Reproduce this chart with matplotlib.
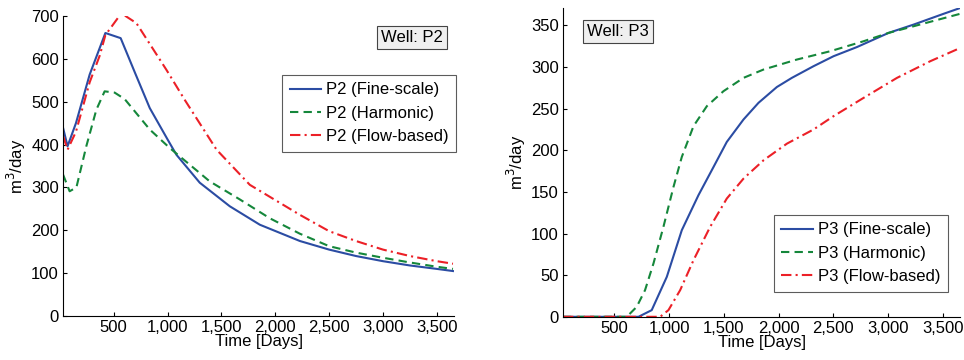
import matplotlib
matplotlib.use("Agg")
import matplotlib.pyplot as plt
from matplotlib.ticker import FuncFormatter

plt.rcParams['font.family'] = ['Liberation Sans', 'DejaVu Sans']

# Well P2
p2_days = [30, 72, 150, 277, 423, 565, 700, 835, 1000, 1083, 1299, 1578,
           1857, 2229, 2500, 2750, 3000, 3250, 3500, 3650]
p2_fine = [439, 396, 450, 563, 660, 648, 566, 485, 412, 376, 311, 256,
           213, 175, 155, 140, 128, 118, 110, 105]
p2_harm_days = [30, 91, 154, 246, 339, 416, 509, 602, 835, 1020, 1206, 1392,
                1671, 1950, 2229, 2500, 2750, 3000, 3250, 3500, 3650]
p2_harm = [330, 291, 300, 396, 481, 524, 521, 506, 435, 392, 353, 314,
           272, 228, 192, 163, 148, 136, 125, 115, 110]
p2_flow_days = [30, 72, 150, 277, 370, 423, 571, 711, 990, 1160, 1455, 1764,
                2229, 2500, 2750, 3000, 3250, 3500, 3650]
p2_flow = [420, 388, 430, 545, 607, 655, 706, 683, 574, 504, 388, 306,
           236, 198, 175, 155, 140, 128, 122]

# Well P3
p3_fine_days = [30, 720, 841, 979, 1116, 1268, 1406, 1527, 1680, 1817, 1985,
                2122, 2320, 2503, 2717, 3006, 3235, 3510, 3662]
p3_fine = [0, 0, 8, 48, 104, 146, 180, 210, 237, 257, 276, 287, 301, 313,
           324, 341, 351, 364, 371]
p3_harm_days = [30, 613, 704, 780, 857, 948, 1040, 1116, 1223, 1345, 1497,
                1680, 1863, 2168, 2473, 2778, 3006, 3235, 3662]
p3_harm = [0, 0, 12, 32, 64, 108, 156, 192, 229, 253, 271, 287, 297, 309,
           319, 331, 341, 349, 364]
p3_flow_days = [30, 918, 994, 1101, 1223, 1375, 1527, 1680, 1863, 2077, 2320,
                2503, 2778, 3083, 3387, 3662]
p3_flow = [0, 0, 8, 32, 68, 108, 142, 166, 188, 208, 225, 241, 263, 287,
           307, 323]

blue = '#2b4ca3'
green = '#15873b'
red = '#ec2027'
fs = 12

fig = plt.figure(figsize=(9.64, 3.6), dpi=100)
ax1 = fig.add_axes([0.0654, 0.122, 0.4056, 0.834])
ax2 = fig.add_axes([0.584, 0.120, 0.412, 0.858])

comma = FuncFormatter(lambda v, p: f'{int(v):,}')
dashdot = (0, (5, 2, 1, 2))
dashed = (0, (4, 2.5))

ax1.plot(p2_days, p2_fine, color=blue, lw=1.5, label='P2 (Fine-scale)')
ax1.plot(p2_harm_days, p2_harm, color=green, lw=1.5, ls=dashed, label='P2 (Harmonic)')
ax1.plot(p2_flow_days, p2_flow, color=red, lw=1.5, ls=dashdot, label='P2 (Flow-based)')
ax1.set_xlim(30, 3660)
ax1.set_ylim(0, 700)
ax1.set_xticks(range(500, 3501, 500))
ax1.set_yticks(range(0, 701, 100))

ax2.plot(p3_fine_days, p3_fine, color=blue, lw=1.5, label='P3 (Fine-scale)')
ax2.plot(p3_harm_days, p3_harm, color=green, lw=1.5, ls=dashed, label='P3 (Harmonic)')
ax2.plot(p3_flow_days, p3_flow, color=red, lw=1.5, ls=dashdot, label='P3 (Flow-based)')
ax2.set_xlim(30, 3660)
ax2.set_ylim(0, 371)
ax2.set_xticks(range(500, 3501, 500))
ax2.set_yticks(range(0, 351, 50))

for ax in (ax1, ax2):
    ax.xaxis.set_major_formatter(comma)
    ax.spines['top'].set_visible(False)
    ax.spines['right'].set_visible(False)
    ax.tick_params(direction='in', length=3, labelsize=fs, pad=3)
    ax.set_xlabel('Time [Days]', fontsize=fs, labelpad=-1)
    ax.set_ylabel('m$^3$/day', fontsize=fs, labelpad=2)

leg_kw = dict(fontsize=fs, frameon=True, fancybox=False, edgecolor='#333333',
              handlelength=1.9, handletextpad=0.3, labelspacing=0.5,
              borderpad=0.45, borderaxespad=0)
l1 = ax1.legend(loc='upper left', bbox_to_anchor=(0.560, 0.803), **leg_kw)
l1.get_frame().set_linewidth(0.8)
l2 = ax2.legend(loc='upper left', bbox_to_anchor=(0.531, 0.330), **leg_kw)
l2.get_frame().set_linewidth(0.8)

box = dict(boxstyle='square,pad=0.25', facecolor='#efefef', edgecolor='#444444', lw=0.8)
ax1.text(0.893, 0.927, 'Well: P2', transform=ax1.transAxes, fontsize=fs,
         ha='center', va='center', bbox=box)
ax2.text(0.060, 0.924, 'Well: P3', transform=ax2.transAxes, fontsize=fs,
         ha='left', va='center', bbox=box)

fig.savefig('out.png', dpi=100)
